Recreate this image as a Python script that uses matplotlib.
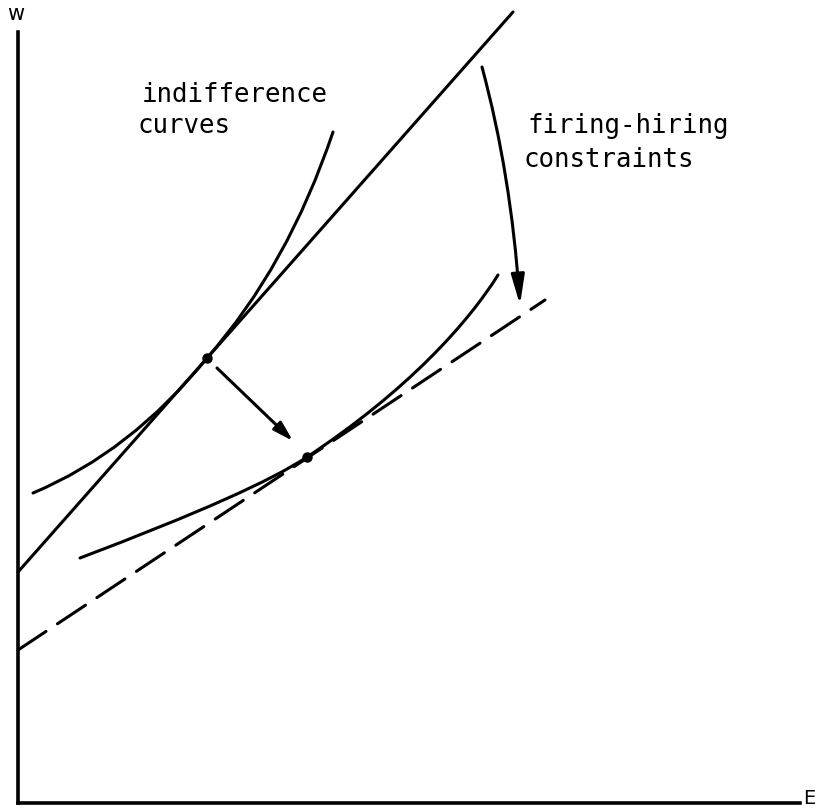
import numpy as np
import matplotlib.pyplot as plt
from matplotlib.path import Path
from matplotlib.patches import PathPatch, FancyArrowPatch

# ---- values (E across, w up, origin at the axis corner) ----
# firing-hiring constraints
line_E = [0, 495]
line_w = [231, 791]
dash_E = [0, 527]
dash_w = [153, 503]

# indifference curves: start, bend, tangency, bend, bend, end
ic1_E = [15, 113, 189, 270, 315]
ic1_w = [310, 351, 445, 537, 671]
ic2_E = [62, 237, 289, 389, 450, 480]
ic2_w = [245, 311, 346, 412, 480, 528]

# tangency points
tan_E = [189, 289]
tan_w = [445, 346]

# arrows: shift of the optimum, shift of the constraint
shift_E = [199, 275]
shift_w = [435, 362]
move_E = [464, 493, 502]
move_w = [736, 629, 498]

E_max = 782
w_max = 771

LW = 2.2

fig = plt.figure(figsize=(8.16, 8.10), dpi=100)
ax = fig.add_axes([0, 0, 1, 1])
ax.set_xlim(-18, 798)
ax.set_ylim(-7, 803)

for s in ['top', 'right']:
    ax.spines[s].set_visible(False)
ax.spines['left'].set_position(('data', 0))
ax.spines['bottom'].set_position(('data', 0))
ax.spines['left'].set_bounds(0, w_max)
ax.spines['bottom'].set_bounds(0, E_max)
ax.spines['left'].set_linewidth(2.6)
ax.spines['bottom'].set_linewidth(2.6)
ax.set_xticks([])
ax.set_yticks([])

ax.plot(line_E, line_w, color='black', lw=LW, solid_capstyle='round')
ax.plot(dash_E, dash_w, color='black', lw=LW, dashes=(11, 4.5), dash_capstyle='round')

# upper curve: two quadratic pieces meeting at the tangency
ic1 = Path(list(zip(ic1_E, ic1_w)),
           [Path.MOVETO, Path.CURVE3, Path.CURVE3, Path.CURVE3, Path.CURVE3])
# lower curve: quadratic piece then cubic piece
ic2 = Path(list(zip(ic2_E, ic2_w)),
           [Path.MOVETO, Path.CURVE3, Path.CURVE3, Path.CURVE4, Path.CURVE4, Path.CURVE4])
for p in [ic1, ic2]:
    ax.add_patch(PathPatch(p, fill=False, lw=LW, edgecolor='black', capstyle='round'))

ax.plot(tan_E, tan_w, 'o', color='black', ms=6.5)

ax.add_patch(FancyArrowPatch((shift_E[0], shift_w[0]), (shift_E[1], shift_w[1]),
                             arrowstyle='-|>,head_length=12,head_width=3.5',
                             mutation_scale=1, lw=LW, color='black',
                             shrinkA=0, shrinkB=0, capstyle='round'))

curve = Path(list(zip(move_E, move_w)), [Path.MOVETO, Path.CURVE3, Path.CURVE3])
ax.add_patch(FancyArrowPatch(path=curve,
                             arrowstyle='-|>,head_length=18,head_width=4',
                             mutation_scale=1, lw=LW, color='black',
                             capstyle='round'))

tfont = dict(family='DejaVu Sans Mono', size=18.5, color='black', va='baseline')
ax.text(124, 701, 'indifference', **tfont)
ax.text(120, 670, 'curves', **tfont)
ax.text(509, 670, 'firing-hiring', **tfont)
ax.text(505, 636, 'constraints', **tfont)

ax.text(-2, 789, 'w', family='DejaVu Sans', size=15, ha='center', va='center')
ax.text(797, 5, 'E', family='DejaVu Sans', size=14, ha='right', va='center')

fig.savefig('out.png', dpi=100)
